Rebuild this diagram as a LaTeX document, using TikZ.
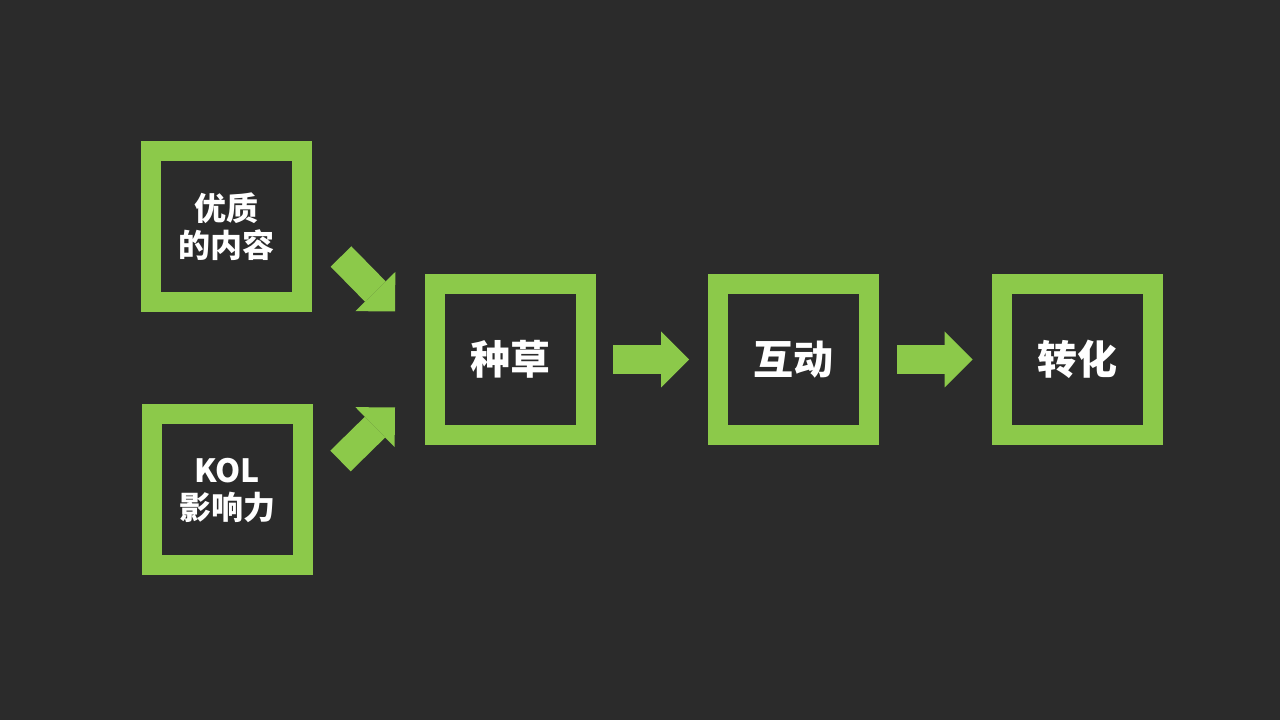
\documentclass[tikz,border=0pt]{standalone}
\usepackage{fontspec}
\usepackage{xcolor}
\usepackage{tikz}
\usetikzlibrary{arrows.meta}
\usetikzlibrary{calc}
\newfontfamily\cjk{Noto Sans CJK SC}

\definecolor{board}{HTML}{2B2B2B}
\definecolor{leaf}{HTML}{8CC94A}

\tikzset{
  stagebox/.style={draw=leaf, line width=20pt, minimum size=151pt, inner sep=0pt,
    outer sep=10pt, text=white, align=center, font=\cjk\bfseries\fontsize{40}{44}\selectfont},
  srcbox/.style={stagebox, font=\cjk\bfseries\fontsize{32}{37}\selectfont},
  blockarrow/.style={draw=leaf, line width=29pt, line cap=butt,
    -{Triangle[length=28pt, width=56pt, line width=0pt, fill=leaf]}}
}

\begin{document}
\begin{tikzpicture}[x=1pt, y=1pt]
    \fill[board] (0,0) rectangle (1280,720);
    \useasboundingbox (0,0) rectangle (1280,720);
    \node[srcbox]   (yz) at (226.5,493.5) {优质\\的内容};
    \node[srcbox]   (kol) at (227,230) {KOL\\影响力};
    \node[stagebox] (zc) at (510.5,360.5) {种草};
    \node[stagebox] (hd) at (793.5,360.5) {互动};
    \node[stagebox] (zh) at (1077,360.5) {转化};
    % diagonal feeds
    \coordinate (s1) at ($(yz.east)+(29,-30)$);
    \coordinate (t1) at ($(zc.west)+(-30,48)$);
    \coordinate (s2) at ($(kol.east)+(28,29)$);
    \coordinate (t2) at ($(zc.west)+(-30,-48)$);
    \draw[blockarrow] (s1) -- (t1);
    \draw[blockarrow] (s2) -- (t2);
    \draw[blockarrow, shorten <=17pt, shorten >=19pt] (zc.east) -- (hd.west);
    \draw[blockarrow, shorten <=18pt, shorten >=19pt] (hd.east) -- (zh.west);
  \end{tikzpicture}
\end{document}
